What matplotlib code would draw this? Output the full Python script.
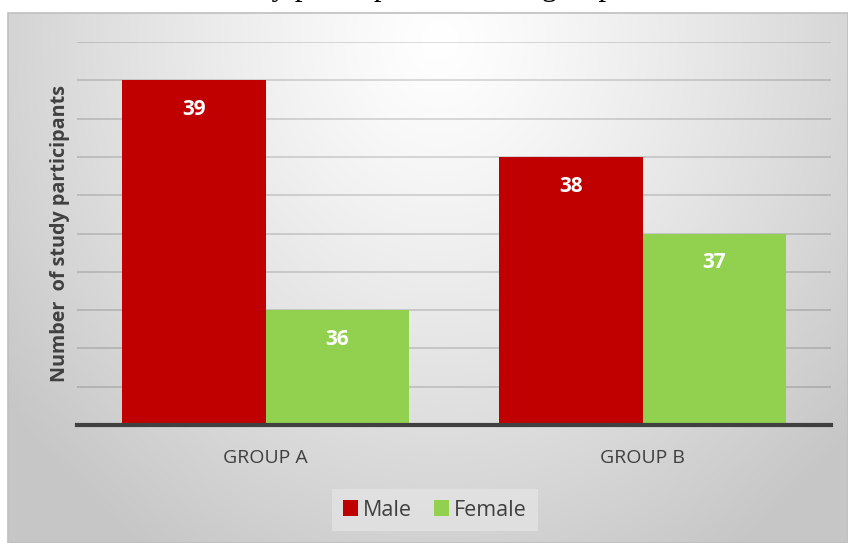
import numpy as np
import matplotlib.pyplot as plt
from matplotlib.patches import Rectangle

# ---------------- data ----------------
groups = ['GROUP A', 'GROUP B']
male = [39, 38]
female = [36, 37]
series_names = ['Male', 'Female']
y_min, y_max, y_step = 34.5, 39.5, 0.5

red = '#C00000'
green = '#92D050'
txt = '#404040'

W, H = 848, 543
fig = plt.figure(figsize=(W / 100, H / 100), dpi=100)
fig.patch.set_facecolor('white')

# background panel with radial gradient
bg = fig.add_axes([0, 0, 1, 1])
bg.set_xlim(0, W)
bg.set_ylim(H, 0)
bg.axis('off')
px0, py0, px1, py1 = 8, 13, 848, 543
gx, gy = np.meshgrid(np.linspace(px0, px1, 400), np.linspace(py0, py1, 260))
d = np.sqrt(((gx - 440) / 540) ** 2 + ((gy - 40) / 600) ** 2)
shade = 1.0 - 0.22 * np.clip(d, 0, 1) ** 1.2
img = np.dstack([shade, shade, shade])
bg.imshow(img, extent=(px0, px1, py1, py0), aspect='auto', zorder=0)
bg.add_patch(Rectangle((px0, py0), px1 - px0, py1 - py0, fill=False,
                       edgecolor='#bfbfbf', lw=1.2, zorder=1))

# cropped caption above the chart (only descenders visible)
fig.text(29 / W, 1 + 5 / H, 'Distribution of study participants in both groups',
         family='Liberation Serif', fontsize=22.3, color='black',
         ha='left', va='baseline')

# plot area
ax = fig.add_axes([77 / W, 1 - 425 / H, (831 - 77) / W, (425 - 42) / H])
ax.patch.set_alpha(0)
x = np.arange(len(groups))
w = 0.38
b1 = ax.bar(x - w / 2, male, w, bottom=0, color=red, zorder=3, label=series_names[0])
b2 = ax.bar(x + w / 2, female, w, bottom=0, color=green, zorder=3, label=series_names[1])
ax.set_ylim(y_min, y_max)
ax.set_xlim(-0.5, len(groups) - 0.5)
ax.set_yticks(np.arange(y_min + y_step, y_max + 0.01, y_step))
ax.yaxis.grid(True, color='black', alpha=0.16, lw=1.2, zorder=1)
ax.tick_params(axis='y', length=0, labelleft=False)
ax.tick_params(axis='x', length=0, pad=17, labelsize=14, labelcolor=txt)
ax.set_xticks(x)
ax.set_xticklabels(groups, family='Open Sans')
for s in ['top', 'right', 'left']:
    ax.spines[s].set_visible(False)
ax.spines['bottom'].set_color(txt)
ax.spines['bottom'].set_linewidth(3)
ax.spines['bottom'].set_zorder(4)

for bars in (b1, b2):
    for r in bars:
        ax.annotate(f'{int(r.get_height())}', (r.get_x() + r.get_width() / 2, r.get_height()),
                    xytext=(0, -21), textcoords='offset points', ha='center', va='center',
                    color='white', fontsize=15, fontweight='bold', family='Open Sans', zorder=5)

fig.text(60 / W, 1 - 234 / H, 'Number  of study participants', rotation=90,
         ha='center', va='center', fontsize=14.2, fontweight='bold', color=txt,
         family='Open Sans')

leg = fig.legend(handles=[b1, b2], labels=series_names, loc='center',
                 bbox_to_anchor=(435 / W, 1 - 510 / H), ncol=2, frameon=True,
                 fancybox=False, handlelength=0.7, handleheight=0.7, handletextpad=0.25,
                 columnspacing=1.0, borderpad=0.5,
                 prop={'family': 'Open Sans', 'size': 15.5})
leg.get_frame().set_facecolor('#e3e3e3')
leg.get_frame().set_edgecolor('none')
leg.get_frame().set_alpha(0.8)
for t in leg.get_texts():
    t.set_color(txt)

fig.savefig('out.png', dpi=100)
